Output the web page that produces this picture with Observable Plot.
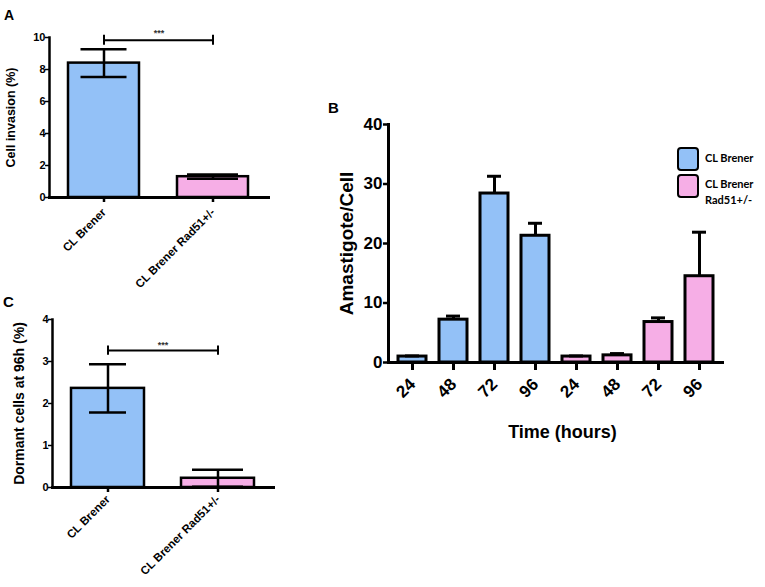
<!DOCTYPE html>
<html><head><meta charset="utf-8">
<script src="https://cdn.jsdelivr.net/npm/d3@7"></script>
<script src="https://cdn.jsdelivr.net/npm/@observablehq/plot@0.6"></script>
<style>
body{margin:0;background:#fff;}
#fig{position:relative;width:765px;height:587px;overflow:hidden;font-family:"Liberation Sans",Arial,sans-serif;background:#fff;}
.panel{position:absolute;}
.panel svg{display:block;max-width:none;}
.letter{position:absolute;font-weight:bold;line-height:1;}
.leg{position:absolute;font-family:Lato,"Open Sans",sans-serif;font-weight:bold;font-size:11px;line-height:16px;color:#000;}
.sw{position:absolute;width:18px;height:20px;border:2px solid #000;border-radius:4px;}
</style></head><body>
<div id="fig">
  <div class="letter" style="left:4px;top:8px;font-size:14px">A</div>
  <div class="letter" style="left:328px;top:100px;font-size:15px">B</div>
  <div class="letter" style="left:3px;top:294px;font-size:15px">C</div>
  <div class="panel" id="pa" style="left:0;top:0"></div>
  <div class="panel" id="pb" style="left:320px;top:90px"></div>
  <div class="panel" id="pc" style="left:0;top:290px"></div>
</div>
<script>
// ---- data ----
const groups = ["CL Brener", "CL Brener Rad51+/-"];
const legendLines = [["CL Brener"], ["CL Brener", "Rad51+/-"]];
const colors = ["#93c1f7", "#f6aee6"];
const invasion = [8.40, 1.30];
const invasionErr = [0.87, 0.13];
const dormant = [2.36, 0.22];
const dormantErr = [0.575, 0.20];
const hours = ["24", "48", "72", "96"];
const amastWT = [1.0, 7.2, 28.4, 21.3];
const amastWTErr = [0.1, 0.6, 2.9, 2.1];
const amastRad = [1.0, 1.2, 6.8, 14.5];
const amastRadErr = [0.1, 0.3, 0.7, 7.4];
const sigLabel = "***";
const labelA = "Cell invasion (%)";
const labelB = "Amastigote/Cell";
const labelBx = "Time (hours)";
const labelC = "Dormant cells at 96h (%)";

const baseStyle = {fontFamily: "Liberation Sans, Arial, sans-serif", color: "#000", background: "transparent", overflow: "visible"};

function twoGroup(o) {
  const rows = groups.map((g, i) => ({g, v: o.values[i], lo: o.values[i] - o.errs[i], hi: o.values[i] + o.errs[i], c: colors[i]}));
  const caps = rows.map((r, i) => Plot.tickY([r.lo, r.hi], {x: () => r.g, y: d => d, stroke: "#000", strokeWidth: 2.5, insetLeft: o.caps[i], insetRight: o.caps[i]}));
  return Plot.plot({
    width: o.width, height: o.height,
    marginLeft: o.ml, marginRight: o.mr, marginTop: o.mt, marginBottom: o.mb,
    x: {domain: groups, paddingInner: o.pi, paddingOuter: o.po},
    y: {domain: [0, o.yMax]},
    color: {type: "identity"},
    style: baseStyle,
    marks: [
      Plot.barY(rows, {x: "g", y: "v", fill: "c", stroke: "#000", strokeWidth: 2.5}),
      Plot.ruleX(rows, {x: "g", y1: "lo", y2: "hi", stroke: "#000", strokeWidth: 2.5}),
      ...caps,
      Plot.line(groups, {x: d => d, y: () => o.sigY, stroke: "#000", strokeWidth: 2}),
      Plot.ruleX(groups, {x: d => d, y1: () => o.sigY - o.sigTick, y2: () => o.sigY + o.sigTick, stroke: "#000", strokeWidth: 2}),
      Plot.text([sigLabel], {y: () => o.sigTextY, text: d => d, fontSize: 9, fontWeight: "bold", fill: "#333"}),
      Plot.frame({anchor: "left", strokeWidth: 2.5}),
      Plot.frame({anchor: "bottom", strokeWidth: 3}),
      Plot.axisY({ticks: o.yTicks, tickFormat: "d", tickSize: 4, tickPadding: 0, fontSize: o.yFont, fontWeight: "bold", label: null, strokeWidth: 1.5}),
      Plot.axisX({tickRotate: -45, tickSize: 5, tickPadding: o.xPad, fontSize: o.xFont, fontWeight: "bold", label: null, strokeWidth: 2.5}),
      Plot.text([o.label], {frameAnchor: "left", rotate: -90, dx: o.labelDx, textAnchor: "middle", lineAnchor: "middle", fontSize: o.labelFont, fontWeight: "bold"})
    ]
  });
}

document.getElementById("pa").append(twoGroup({
  values: invasion, errs: invasionErr, yMax: 10, yTicks: [0, 2, 4, 6, 8, 10],
  width: 300, height: 290, ml: 49, mr: 32, mt: 37, mb: 93, pi: 0.345, po: 0.168,
  caps: [12.5, 10], sigY: 9.83, sigTick: 0.31, sigTextY: 10.25,
  xFont: 11.5, xPad: 8, yFont: 11, labelFont: 12.5, label: labelA, labelDx: -39
}));

document.getElementById("pc").append(twoGroup({
  values: dormant, errs: dormantErr, yMax: 4, yTicks: [0, 1, 2, 3, 4],
  width: 300, height: 297, ml: 52, mr: 27, mt: 29, mb: 100, pi: 0.336, po: 0.17,
  caps: [18, 11], sigY: 3.26, sigTick: 0.11, sigTextY: 3.39,
  xFont: 11.5, xPad: 5, yFont: 11, labelFont: 14, label: labelC, labelDx: -33
}));

// ---- panel B ----
const bRows = [
  ...hours.map((h, i) => ({k: groups[0] + "|" + h, v: amastWT[i], e: amastWTErr[i], c: colors[0]})),
  ...hours.map((h, i) => ({k: groups[1] + "|" + h, v: amastRad[i], e: amastRadErr[i], c: colors[1]}))
];
document.getElementById("pb").append(Plot.plot({
  width: 445, height: 380, marginLeft: 68, marginRight: 43, marginTop: 34, marginBottom: 108,
  x: {domain: bRows.map(d => d.k), paddingInner: 0.32, paddingOuter: 0.168},
  y: {domain: [0, 40]},
  color: {type: "identity"},
  style: baseStyle,
  marks: [
    Plot.barY(bRows, {x: "k", y: "v", fill: "c", stroke: "#000", strokeWidth: 3}),
    Plot.ruleX(bRows, {x: "k", y1: "v", y2: d => d.v + d.e, stroke: "#000", strokeWidth: 3}),
    Plot.tickY(bRows, {x: "k", y: d => d.v + d.e, stroke: "#000", strokeWidth: 3, insetLeft: 7, insetRight: 7}),
    Plot.frame({anchor: "left", strokeWidth: 3}),
    Plot.frame({anchor: "bottom", strokeWidth: 3}),
    Plot.axisY({ticks: [0, 10, 20, 30, 40], tickSize: 5, tickPadding: 1, fontSize: 17, fontWeight: "bold", label: null, strokeWidth: 2.5}),
    Plot.axisX({tickRotate: -45, tickSize: 8, tickPadding: 11, fontSize: 17, fontWeight: "bold", label: null, strokeWidth: 3, tickFormat: d => d.split("|")[1]}),
    Plot.text([labelB], {frameAnchor: "left", rotate: -90, dx: -42, textAnchor: "middle", lineAnchor: "middle", fontSize: 19, fontWeight: "bold"}),
    Plot.text([labelBx], {frameAnchor: "bottom", dy: 70, dx: 7, textAnchor: "middle", lineAnchor: "middle", fontSize: 18, fontWeight: "bold"})
  ]
}));

// ---- legend ----
const fig = document.getElementById("fig");
const legTops = [147, 174];
const textTops = [150, 176];
groups.forEach((g, i) => {
  const sw = document.createElement("div");
  sw.className = "sw";
  sw.style.left = "677px";
  sw.style.top = legTops[i] + "px";
  sw.style.background = colors[i];
  fig.append(sw);
  const t = document.createElement("div");
  t.className = "leg";
  t.style.left = "705px";
  t.style.top = textTops[i] + "px";
  t.innerHTML = legendLines[i].join("<br>");
  fig.append(t);
});
</script>
</body></html>
